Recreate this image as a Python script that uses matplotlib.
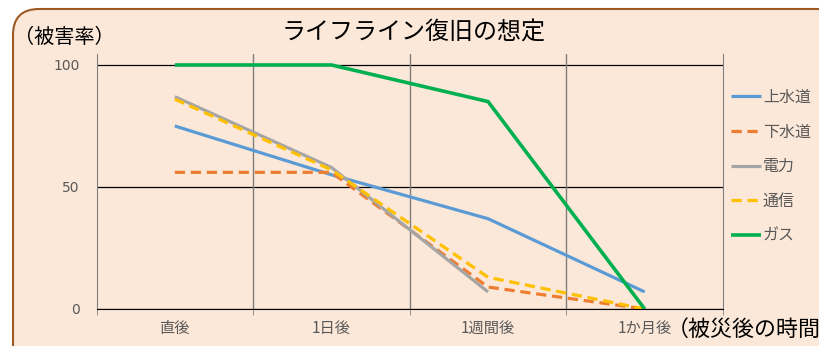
import matplotlib.pyplot as plt
from matplotlib.patches import FancyBboxPatch
from matplotlib.transforms import IdentityTransform
import numpy as np

plt.rcParams['font.family'] = ['Noto Sans CJK JP', 'DejaVu Sans']

# data
categories = ['直後', '1日後', '1週間後', '1か月後']
series_names = ['上水道', '下水道', '電力', '通信', 'ガス']
josuido = [75, 55, 37, 7]
gesuido = [56, 56, 9, 0]
denryoku = [87, 58, 7, np.nan]
tsushin = [86, 57, 13, 0]
gas = [100, 100, 85, 0]
yticks = [0, 50, 100]

colors = ['#5B9BD5', '#ED7D31', '#A5A5A5', '#FFC000', '#00B050']
styles = ['-', '--', '-', '--', '-']

fig = plt.figure(figsize=(8.19, 3.46), dpi=100)
fig.patch.set_facecolor('white')

# rounded peach panel (pixel coords)
box = FancyBboxPatch((13, -30), 840, 337 + 30, boxstyle='round,pad=0,rounding_size=26',
                     transform=IdentityTransform(), facecolor='#FCE8D9',
                     edgecolor='#9C5A24', linewidth=1.5, zorder=-5)
fig.patches.append(box)

ax = fig.add_axes([96.5 / 819, 1 - 309 / 346, (723 - 96.5) / 819, (309 - 54) / 346])
ax.set_facecolor('none')
ax.set_zorder(2)

x = np.arange(len(categories))
data = [josuido, gesuido, denryoku, tsushin, gas]
for name, vals, c, ls in zip(series_names, data, colors, styles):
    lw = 2.6 if name == 'ガス' else 2.3
    line, = ax.plot(x, vals, color=c, linestyle=ls, linewidth=lw, label=name,
                    solid_capstyle='butt', dash_capstyle='butt')
    if ls == '--':
        line.set_dashes((3.2, 1.8))

ax.set_xlim(-0.5, len(categories) - 0.5)
ax.set_ylim(0, 104.5)

for yv in yticks:
    ax.axhline(yv, color='black', linewidth=0.9, zorder=0.5)
for b in np.arange(0.5, len(categories) - 0.5, 1):
    ax.axvline(b, color='#7F7F7F', linewidth=1, zorder=0.5)

ax.spines['top'].set_visible(False)
ax.spines['right'].set_color('#7F7F7F')
ax.spines['left'].set_color('#7F7F7F')
ax.spines['bottom'].set_color('black')

ax.set_yticks(yticks)
ax.set_yticklabels([str(v) for v in yticks], color='#595959', fontsize=10,
                   family=['DejaVu Sans'])
ax.tick_params(axis='y', length=0, pad=12)

ax.set_xticks(x)
ax.set_xticklabels(categories, color='#595959', fontsize=11)
ax.set_xticks(np.arange(-0.5, len(categories), 1), minor=True)
ax.tick_params(axis='x', which='major', length=0, pad=8)
ax.tick_params(axis='x', which='minor', length=4, color='#7F7F7F')

fig.text(414 / 819, 1 - 33 / 346, 'ライフライン復旧の想定', ha='center', va='center',
         fontsize=17.3, color='black')
fig.text(14 / 819, 1 - 37 / 346, '（被害率）', ha='left', va='center',
         fontsize=14.5, color='black')
fig.text(667 / 819, 1 - 330 / 346, '（被災後の時間）', ha='left', va='center',
         fontsize=15.8, color='black')

leg = ax.legend(loc='upper left', bbox_to_anchor=(731 / 819, 1 - 89 / 346),
                bbox_transform=fig.transFigure, frameon=False, fontsize=11.5,
                handlelength=1.9, handletextpad=0.1, labelspacing=1.1,
                borderaxespad=0, borderpad=0)
for t in leg.get_texts():
    t.set_color('#595959')

fig.savefig('out.png', dpi=100, facecolor='white')
